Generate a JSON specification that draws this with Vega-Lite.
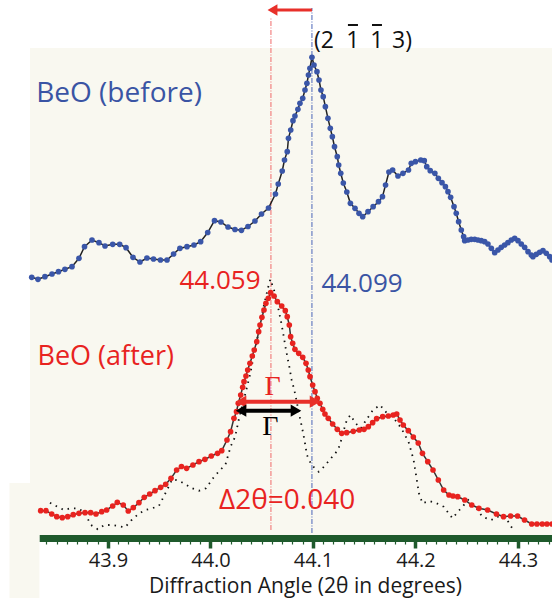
{
  "$schema": "https://vega.github.io/schema/vega-lite/v6.json",
  "width": 522,
  "height": 490,
  "autosize": "none",
  "padding": {"left": 30, "top": 48, "right": 0, "bottom": 60},
  "background": "white",
  "config": {"view": {"stroke": null, "fill": "#f9f8f0"}, "font": "Open Sans"},
  "datasets": {
    "before": [
      {"x":43.8256,"y":260.7},{"x":43.8317,"y":258.7},{"x":43.8385,"y":261.3},{"x":43.8454,"y":264},{"x":43.8517,"y":266.3},{"x":43.8580,"y":268.7},{"x":43.8649,"y":271.3},{"x":43.8717,"y":279.7},{"x":43.8771,"y":291.3},{"x":43.8844,"y":298},{"x":43.8912,"y":295.3},{"x":43.8971,"y":292},{"x":43.9046,"y":293.7},{"x":43.9114,"y":293.7},{"x":43.9176,"y":290.3},{"x":43.9244,"y":280.7},{"x":43.9312,"y":276},{"x":43.9380,"y":280},{"x":43.9444,"y":279},{"x":43.9512,"y":278},{"x":43.9576,"y":278},{"x":43.9640,"y":284},{"x":43.9702,"y":289.7},{"x":43.9771,"y":291.3},{"x":43.9839,"y":293},{"x":43.9904,"y":296.3},{"x":43.9973,"y":305.5},{"x":44.0039,"y":317.3},{"x":44.0102,"y":316},{"x":44.0171,"y":311},{"x":44.0239,"y":308.5},{"x":44.0302,"y":307.7},{"x":44.0366,"y":311.5},{"x":44.0434,"y":317},{"x":44.0498,"y":324},{"x":44.0566,"y":330},{"x":44.0634,"y":344},{"x":44.0661,"y":354},{"x":44.0700,"y":367},{"x":44.0722,"y":378},{"x":44.0749,"y":386.3},{"x":44.0761,"y":399.7},{"x":44.0783,"y":408},{"x":44.0805,"y":417.3},{"x":44.0824,"y":422},{"x":44.0853,"y":428.7},{"x":44.0873,"y":434.7},{"x":44.0900,"y":439.7},{"x":44.0922,"y":448},{"x":44.0941,"y":454.7},{"x":44.0956,"y":463},{"x":44.0970,"y":469.7},{"x":44.0990,"y":480.7},{"x":44.1010,"y":473},{"x":44.1039,"y":466.3},{"x":44.1059,"y":458},{"x":44.1078,"y":448},{"x":44.1100,"y":441.3},{"x":44.1121,"y":431.3},{"x":44.1146,"y":419.7},{"x":44.1169,"y":409.7},{"x":44.1189,"y":401.3},{"x":44.1210,"y":391.3},{"x":44.1237,"y":381.3},{"x":44.1251,"y":373},{"x":44.1271,"y":364.7},{"x":44.1296,"y":355},{"x":44.1330,"y":346},{"x":44.1365,"y":334.7},{"x":44.1410,"y":329.7},{"x":44.1449,"y":324.7},{"x":44.1485,"y":321.3},{"x":44.1537,"y":326.3},{"x":44.1587,"y":331.3},{"x":44.1639,"y":336.3},{"x":44.1678,"y":341.3},{"x":44.1708,"y":353},{"x":44.1741,"y":366},{"x":44.1777,"y":368},{"x":44.1829,"y":362},{"x":44.1878,"y":364.7},{"x":44.1932,"y":368},{"x":44.1959,"y":374.7},{"x":44.2000,"y":376.3},{"x":44.2052,"y":378},{"x":44.2086,"y":377.3},{"x":44.2110,"y":371.3},{"x":44.2144,"y":367.3},{"x":44.2189,"y":364.7},{"x":44.2223,"y":359.7},{"x":44.2259,"y":355.3},{"x":44.2292,"y":351.3},{"x":44.2317,"y":346.3},{"x":44.2343,"y":340.7},{"x":44.2376,"y":331.3},{"x":44.2398,"y":324.7},{"x":44.2421,"y":316.3},{"x":44.2447,"y":308},{"x":44.2470,"y":301.3},{"x":44.2480,"y":297.3},{"x":44.2512,"y":298},{"x":44.2544,"y":298.7},{"x":44.2578,"y":298.7},{"x":44.2610,"y":298},{"x":44.2642,"y":297.3},{"x":44.2675,"y":296.3},{"x":44.2707,"y":294},{"x":44.2740,"y":289.7},{"x":44.2773,"y":285.3},{"x":44.2805,"y":288},{"x":44.2837,"y":290.7},{"x":44.2870,"y":293},{"x":44.2902,"y":295.3},{"x":44.2935,"y":298},{"x":44.2968,"y":299.7},{"x":44.3000,"y":297.3},{"x":44.3032,"y":294},{"x":44.3065,"y":290.7},{"x":44.3098,"y":286.3},{"x":44.3130,"y":283},{"x":44.3146,"y":281.3},{"x":44.3179,"y":283.7},{"x":44.3212,"y":285.7},{"x":44.3244,"y":287.3},{"x":44.3276,"y":284.7},{"x":44.3309,"y":281.3},{"x":44.3332,"y":278}
    ],
    "after": [
      {"x":43.8343,"y":27.3},{"x":43.8395,"y":27.3},{"x":43.8451,"y":24},{"x":43.8500,"y":21.3},{"x":43.8554,"y":20.3},{"x":43.8607,"y":21.3},{"x":43.8661,"y":23.3},{"x":43.8717,"y":24.7},{"x":43.8776,"y":25.3},{"x":43.8831,"y":25.3},{"x":43.8883,"y":24},{"x":43.8939,"y":26.3},{"x":43.8987,"y":28},{"x":43.9046,"y":32},{"x":43.9091,"y":35.7},{"x":43.9149,"y":33},{"x":43.9198,"y":27},{"x":43.9247,"y":30.3},{"x":43.9302,"y":35.3},{"x":43.9354,"y":40.7},{"x":43.9407,"y":44},{"x":43.9459,"y":47.3},{"x":43.9514,"y":50.7},{"x":43.9563,"y":53.7},{"x":43.9615,"y":59.7},{"x":43.9670,"y":68},{"x":43.9717,"y":71.5},{"x":43.9767,"y":69.7},{"x":43.9829,"y":73},{"x":43.9888,"y":76.3},{"x":43.9946,"y":78.7},{"x":44.0008,"y":82},{"x":44.0069,"y":84.7},{"x":44.0110,"y":87.3},{"x":44.0161,"y":98},{"x":44.0196,"y":106.3},{"x":44.0229,"y":119.7},{"x":44.0254,"y":126.3},{"x":44.0271,"y":134.7},{"x":44.0295,"y":143},{"x":44.0314,"y":150.7},{"x":44.0327,"y":156.3},{"x":44.0346,"y":162},{"x":44.0363,"y":168},{"x":44.0385,"y":174.7},{"x":44.0408,"y":182},{"x":44.0427,"y":188},{"x":44.0451,"y":196.3},{"x":44.0470,"y":206.3},{"x":44.0483,"y":213},{"x":44.0502,"y":220.7},{"x":44.0522,"y":228},{"x":44.0541,"y":234.7},{"x":44.0564,"y":239.7},{"x":44.0587,"y":245.3},{"x":44.0620,"y":242},{"x":44.0652,"y":236.3},{"x":44.0695,"y":232},{"x":44.0730,"y":227.3},{"x":44.0749,"y":221.3},{"x":44.0769,"y":213},{"x":44.0782,"y":201.3},{"x":44.0802,"y":194.7},{"x":44.0824,"y":188.7},{"x":44.0861,"y":184.7},{"x":44.0900,"y":180.7},{"x":44.0932,"y":174.7},{"x":44.0954,"y":168},{"x":44.0971,"y":161.3},{"x":44.0997,"y":153},{"x":44.1020,"y":146.3},{"x":44.1042,"y":139.7},{"x":44.1068,"y":134.7},{"x":44.1095,"y":128.7},{"x":44.1117,"y":124},{"x":44.1149,"y":119.7},{"x":44.1192,"y":114},{"x":44.1237,"y":108.7},{"x":44.1280,"y":104.7},{"x":44.1329,"y":105.3},{"x":44.1393,"y":106.7},{"x":44.1452,"y":108},{"x":44.1498,"y":108.7},{"x":44.1540,"y":111.3},{"x":44.1582,"y":115.3},{"x":44.1621,"y":119.3},{"x":44.1680,"y":121.3},{"x":44.1735,"y":122},{"x":44.1783,"y":123},{"x":44.1817,"y":124},{"x":44.1849,"y":118},{"x":44.1881,"y":113},{"x":44.1930,"y":107.3},{"x":44.1979,"y":101},{"x":44.2027,"y":95},{"x":44.2068,"y":84.7},{"x":44.2120,"y":76.3},{"x":44.2171,"y":68},{"x":44.2223,"y":58},{"x":44.2275,"y":48},{"x":44.2327,"y":43},{"x":44.2366,"y":42},{"x":44.2412,"y":41.3},{"x":44.2481,"y":38},{"x":44.2549,"y":33},{"x":44.2619,"y":29.7},{"x":44.2704,"y":28},{"x":44.2790,"y":24},{"x":44.2859,"y":21.3},{"x":44.2928,"y":22},{"x":44.2996,"y":22},{"x":44.3064,"y":18},{"x":44.3134,"y":14},{"x":44.3185,"y":14},{"x":44.3237,"y":14},{"x":44.3283,"y":14},{"x":44.3332,"y":14}
    ],
    "overlay": [
      {"x":43.8434,"y":35.3},{"x":43.8505,"y":31.3},{"x":43.8571,"y":28},{"x":43.8636,"y":29.7},{"x":43.8700,"y":29.7},{"x":43.8766,"y":26.3},{"x":43.8834,"y":13},{"x":43.8900,"y":8.7},{"x":43.8964,"y":13},{"x":43.9036,"y":13},{"x":43.9100,"y":12},{"x":43.9166,"y":10.7},{"x":43.9231,"y":18},{"x":43.9296,"y":24},{"x":43.9361,"y":28},{"x":43.9432,"y":29.7},{"x":43.9498,"y":32.3},{"x":43.9563,"y":45.3},{"x":43.9627,"y":58.7},{"x":43.9693,"y":57.3},{"x":43.9751,"y":54},{"x":43.9820,"y":49.7},{"x":43.9888,"y":47.3},{"x":43.9956,"y":49.7},{"x":44.0024,"y":59.7},{"x":44.0093,"y":68},{"x":44.0145,"y":73},{"x":44.0196,"y":91.3},{"x":44.0241,"y":101.3},{"x":44.0282,"y":121.3},{"x":44.0337,"y":143},{"x":44.0385,"y":163},{"x":44.0434,"y":188},{"x":44.0483,"y":213},{"x":44.0522,"y":233},{"x":44.0561,"y":250},{"x":44.0584,"y":258.7},{"x":44.0620,"y":248},{"x":44.0661,"y":230},{"x":44.0695,"y":213},{"x":44.0737,"y":188},{"x":44.0769,"y":171.3},{"x":44.0792,"y":158},{"x":44.0818,"y":148},{"x":44.0844,"y":135},{"x":44.0873,"y":120},{"x":44.0898,"y":108},{"x":44.0917,"y":98},{"x":44.0941,"y":83},{"x":44.0986,"y":73},{"x":44.1056,"y":66.3},{"x":44.1107,"y":71.3},{"x":44.1176,"y":79.7},{"x":44.1244,"y":88},{"x":44.1271,"y":96.3},{"x":44.1296,"y":106.3},{"x":44.1330,"y":118},{"x":44.1365,"y":123},{"x":44.1416,"y":114.7},{"x":44.1468,"y":109.7},{"x":44.1519,"y":118},{"x":44.1585,"y":128},{"x":44.1654,"y":133},{"x":44.1722,"y":124.7},{"x":44.1790,"y":119.7},{"x":44.1862,"y":109.7},{"x":44.1932,"y":96.3},{"x":44.1982,"y":78},{"x":44.2034,"y":44.7},{"x":44.2068,"y":34.7},{"x":44.2138,"y":37},{"x":44.2206,"y":34.7},{"x":44.2275,"y":31.3},{"x":44.2361,"y":19.7},{"x":44.2429,"y":28},{"x":44.2515,"y":38},{"x":44.2584,"y":31.3},{"x":44.2653,"y":21.3},{"x":44.2739,"y":18},{"x":44.2807,"y":21.3},{"x":44.2876,"y":21.3},{"x":44.2944,"y":9.7}
    ]
  },
  "encoding": {
    "x": {
      "field": "x", "type": "quantitative",
      "scale": {"domain": [43.8327, 44.3332], "range": [9, 522], "nice": false, "zero": false},
      "axis": {
        "title": "Diffraction Angle (2θ in degrees)",
        "values": [43.84,43.85,43.86,43.87,43.88,43.89,43.9,43.91,43.92,43.93,43.94,43.95,43.96,43.97,43.98,43.99,44.0,44.01,44.02,44.03,44.04,44.05,44.06,44.07,44.08,44.09,44.1,44.11,44.12,44.13,44.14,44.15,44.16,44.17,44.18,44.19,44.2,44.21,44.22,44.23,44.24,44.25,44.26,44.27,44.28,44.29,44.3,44.31,44.32,44.33],
        "labelExpr": "abs(datum.value*10 - round(datum.value*10)) < 0.001 ? format(datum.value, '.1f') : ''",
        "labelOverlap": false, "labelFlush": false, "labelBound": false,
        "grid": false,
        "domainColor": "#1f5a2c", "domainWidth": 7,
        "tickColor": "#1f5a2c",
        "tickSize": {"condition": {"test": "abs(datum.value*10 - round(datum.value*10)) < 0.001", "value": 10}, "value": 6},
        "tickWidth": {"condition": {"test": "abs(datum.value*10 - round(datum.value*10)) < 0.001", "value": 3.5}, "value": 1.2},
        "labelFont": "Open Sans", "labelFontSize": 20, "labelColor": "#1a1a1a", "labelPadding": 2,
        "titleFont": "Open Sans", "titleFontSize": 21, "titleFontWeight": "normal", "titleColor": "#1a1a1a",
        "titleX": 275, "titleY": 54, "titleBaseline": "alphabetic"
      }
    },
    "y": {"field": "y", "type": "quantitative", "scale": {"domain": [0, 490], "nice": false, "zero": false}, "axis": null}
  },
  "layer": [
    {
      "data": {"values": [{"x": 43.8039, "x2": 43.8331, "y": 55, "y2": -60}]},
      "mark": {"type": "rect", "color": "#f9f8f0"},
      "encoding": {"x2": {"field": "x2"}, "y2": {"field": "y2"}}
    },
    {
      "data": {"values": [{"x": 44.099, "y": 5, "y2": 530}]},
      "mark": {"type": "rule", "color": "#4a64b8", "strokeWidth": 1, "strokeDash": [5, 1.5, 1, 1.5]},
      "encoding": {"y2": {"field": "y2"}}
    },
    {
      "data": {"values": [{"x": 44.059, "y": 8, "y2": 520}]},
      "mark": {"type": "rule", "color": "#f06a6a", "strokeWidth": 1, "strokeDash": [5, 1.5, 1, 1.5]},
      "encoding": {"y2": {"field": "y2"}}
    },
    {
      "data": {"name": "overlay"},
      "mark": {"type": "line", "color": "#111111", "strokeWidth": 1.8, "strokeDash": [1.5, 5]},
      "encoding": {}
    },
    {
      "data": {"name": "after"},
      "mark": {"type": "line", "color": "#333333", "strokeWidth": 1.5, "point": {"filled": true, "color": "#e8231f", "size": 32, "opacity": 1}},
      "encoding": {}
    },
    {
      "data": {"name": "before"},
      "mark": {"type": "line", "color": "#222222", "strokeWidth": 1.5, "point": {"filled": true, "color": "#3a56a8", "size": 32, "opacity": 1}},
      "encoding": {}
    },
    {
      "data": {"values": [{"x": 44.061, "x2": 44.099, "y": 528}]},
      "mark": {"type": "rule", "color": "#e8302a", "strokeWidth": 3},
      "encoding": {"x2": {"field": "x2"}}
    },
    {
      "data": {"values": [{"x": 44.0605, "y": 528}]},
      "mark": {"type": "point", "shape": "triangle-left", "filled": true, "color": "#e8302a", "size": 130, "opacity": 1},
      "encoding": {}
    },
    {
      "data": {"values": [{"x": 44.0298, "x2": 44.1020, "y": 136.3}]},
      "mark": {"type": "rule", "color": "#e8302a", "strokeWidth": 4},
      "encoding": {"x2": {"field": "x2"}}
    },
    {
      "data": {"values": [{"x": 44.0298, "y": 136.3, "s": "L"}, {"x": 44.1020, "y": 136.3, "s": "R"}]},
      "mark": {"type": "point", "filled": true, "color": "#e8302a", "size": 150, "opacity": 1},
      "encoding": {"shape": {"field": "s", "type": "nominal", "scale": {"domain": ["L", "R"], "range": ["triangle-left", "triangle-right"]}, "legend": null}}
    },
    {
      "data": {"values": [{"x": 44.0298, "x2": 44.0834, "y": 127.3}]},
      "mark": {"type": "rule", "color": "#000000", "strokeWidth": 4},
      "encoding": {"x2": {"field": "x2"}}
    },
    {
      "data": {"values": [{"x": 44.0298, "y": 127.3, "s": "L"}, {"x": 44.0834, "y": 127.3, "s": "R"}]},
      "mark": {"type": "point", "filled": true, "color": "#000000", "size": 150, "opacity": 1},
      "encoding": {"shape": {"field": "s", "type": "nominal", "scale": {"domain": ["L", "R"], "range": ["triangle-left", "triangle-right"]}, "legend": null}}
    },
    {
      "data": {"values": [{"x": 44.1010, "y": 490, "t": "(2"}, {"x": 44.1771, "y": 490, "t": "3)"}]},
      "mark": {"type": "text", "align": "left", "baseline": "alphabetic", "fontSize": 23, "color": "#111111", "font": "Open Sans"},
      "encoding": {"text": {"field": "t"}}
    },
    {
      "data": {"values": [{"x": 44.1390, "y": 490, "t": "1"}, {"x": 44.1624, "y": 490, "t": "1"}]},
      "mark": {"type": "text", "align": "center", "baseline": "alphabetic", "fontSize": 23, "color": "#111111", "font": "Open Sans"},
      "encoding": {"text": {"field": "t"}}
    },
    {
      "data": {"values": [{"x": 44.1341, "x2": 44.1439, "y": 513}, {"x": 44.1576, "x2": 44.1673, "y": 513}]},
      "mark": {"type": "rule", "color": "#111111", "strokeWidth": 2},
      "encoding": {"x2": {"field": "x2"}}
    },
    {
      "data": {"values": [{"x": 43.8300, "y": 436.3, "t": "BeO (before)"}]},
      "mark": {"type": "text", "align": "left", "baseline": "alphabetic", "fontSize": 28, "color": "#3a54a4", "font": "Open Sans"},
      "encoding": {"text": {"field": "t"}}
    },
    {
      "data": {"values": [{"x": 43.8312, "y": 173, "t": "BeO (after)"}]},
      "mark": {"type": "text", "align": "left", "baseline": "alphabetic", "fontSize": 27, "color": "#e8231f", "font": "Open Sans"},
      "encoding": {"text": {"field": "t"}}
    },
    {
      "data": {"values": [{"x": 44.0489, "y": 249, "t": "44.059"}]},
      "mark": {"type": "text", "align": "right", "baseline": "alphabetic", "fontSize": 26, "color": "#e8231f", "font": "Open Sans"},
      "encoding": {"text": {"field": "t"}}
    },
    {
      "data": {"values": [{"x": 44.1083, "y": 246.3, "t": "44.099"}]},
      "mark": {"type": "text", "align": "left", "baseline": "alphabetic", "fontSize": 26, "color": "#3a54a4", "font": "Open Sans"},
      "encoding": {"text": {"field": "t"}}
    },
    {
      "data": {"values": [{"x": 44.0605, "y": 143, "t": "Γ"}]},
      "mark": {"type": "text", "align": "center", "baseline": "alphabetic", "fontSize": 28, "color": "#e8231f", "font": "Liberation Serif"},
      "encoding": {"text": {"field": "t"}}
    },
    {
      "data": {"values": [{"x": 44.0585, "y": 103, "t": "Γ"}]},
      "mark": {"type": "text", "align": "center", "baseline": "alphabetic", "fontSize": 28, "color": "#000000", "font": "Liberation Serif"},
      "encoding": {"text": {"field": "t"}}
    },
    {
      "data": {"values": [{"x": 44.0083, "y": 28.7, "t": "Δ2θ=0.040"}]},
      "mark": {"type": "text", "align": "left", "baseline": "alphabetic", "fontSize": 28, "color": "#e8231f", "font": "Open Sans"},
      "encoding": {"text": {"field": "t"}}
    }
  ]
}
